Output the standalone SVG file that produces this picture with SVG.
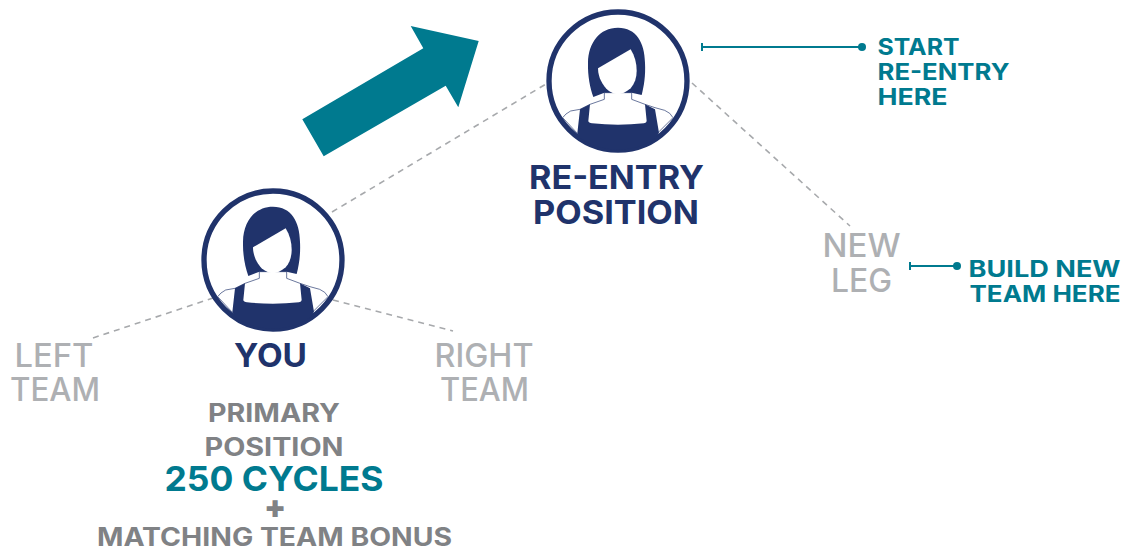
<svg xmlns="http://www.w3.org/2000/svg" width="1125" height="550" viewBox="0 0 1125 550">
<style>
text{font-family:"Inter","Liberation Sans",sans-serif;text-anchor:middle}
.navy{fill:#20336b;font-weight:700;font-size:33px}
.lt{fill:#aeb0b3;font-weight:500;font-size:32px}
.gr{fill:#808285;font-weight:700;font-size:25px}
.te{fill:#007a8f;font-weight:700}
.cal{font-size:23px;text-anchor:start}
.dash{fill:none;stroke:#a7a9ac;stroke-width:1.6;stroke-dasharray:6 5}
.lead{fill:none;stroke:#007a8f;stroke-width:2}
</style>
<defs>
<clipPath id="c"><circle r="206"/></clipPath>
<g id="person">
<circle r="207" fill="#fff" stroke="#20336b" stroke-width="16"/>
<g clip-path="url(#c)">
<path d="M-41 35 V55 L-84 70 L-114 85 L-142 90 Q-158 98 -166 110 L-122 157 L120 155 L165 110 Q158 95 140 88 L111 80 L81 70 L41 55 V35 Z" fill="#fff" stroke="#20336b" stroke-width="2"/>
<path d="M-114 85 L-84 70 L-89 120 Q-88 126 -78 127 Q0 135 78 127 Q86 126 86 120 L81 70 L111 85 L123 155 L80 230 L-80 230 L-122 157 Z" fill="#20336b"/>
<path d="M0 -160 C-55 -160 -89 -115 -90 -55 C-91 -15 -84 20 -74 48 L-41 35 L41 35 L71 42 C78 15 83 -15 81 -55 C80 -115 55 -160 0 -160 Z" fill="#20336b"/>
<path d="M38 -95 L-60 -38 C-60 -10 -45 15 -30 28 C-15 38 -8 40 0 40 C10 40 25 34 38 22 C50 8 56 -10 56 -30 C56 -55 50 -75 38 -95 Z" fill="#fff"/>
</g>
</g>
</defs>
<g id="connectors">
<path class="dash" d="M332 212 L546 84"/>
<path class="dash" d="M93 338 L213 298"/>
<path class="dash" d="M333 300 L453 331"/>
<path class="dash" d="M692 83 L850 226"/>
<path class="lead" d="M702 43 V51 M702 47 H862"/>
<circle cx="862" cy="47" r="4" fill="#007a8f"/>
<path class="lead" d="M910 262 V270 M910 266 H957"/>
<circle cx="957" cy="266" r="4" fill="#007a8f"/>
</g>
<polygon id="arrow" fill="#007a8f" points="302.3,119.3 323.7,156.3 445.7,85.7 458.3,107.3 478.7,41 410.7,26 423.3,48.3"/>
<g id="you">
<use href="#person" transform="translate(273 260) scale(.3333)"/>
<text class="navy" x="270.500" y="367" textLength="73" lengthAdjust="spacingAndGlyphs">YOU</text>
</g>
<g id="reentry">
<use href="#person" transform="translate(618 81) scale(.3333)"/>
<text class="navy" x="616.500" y="189" textLength="175" lengthAdjust="spacingAndGlyphs">RE-ENTRY</text>
<text class="navy" x="616" y="223.500" textLength="166" lengthAdjust="spacingAndGlyphs">POSITION</text>
</g>
<g id="left-team">
<text class="lt" x="54" y="367" textLength="79" lengthAdjust="spacingAndGlyphs">LEFT</text>
<text class="lt" x="55" y="400.500" textLength="90" lengthAdjust="spacingAndGlyphs">TEAM</text>
</g>
<g id="right-team">
<text class="lt" x="484" y="367" textLength="99" lengthAdjust="spacingAndGlyphs">RIGHT</text>
<text class="lt" x="484.500" y="400.500" textLength="89" lengthAdjust="spacingAndGlyphs">TEAM</text>
</g>
<g id="new-leg">
<text class="lt" x="861.500" y="257" textLength="78" lengthAdjust="spacingAndGlyphs">NEW</text>
<text class="lt" x="861.500" y="291.500" textLength="61" lengthAdjust="spacingAndGlyphs">LEG</text>
</g>
<g id="primary">
<text class="gr" x="274" y="422" textLength="132" lengthAdjust="spacingAndGlyphs">PRIMARY</text>
<text class="gr" x="274" y="456" textLength="139" lengthAdjust="spacingAndGlyphs">POSITION</text>
<text class="te" font-size="34" x="274" y="491" textLength="219" lengthAdjust="spacingAndGlyphs">250 CYCLES</text>
<text class="gr" x="275" y="518" style="font-size:32px;font-weight:900">+</text>
<text class="gr" x="274.500" y="546" textLength="355" lengthAdjust="spacingAndGlyphs">MATCHING TEAM BONUS</text>
</g>
<g id="start-label">
<text class="te cal" x="877.500" y="55" textLength="82" lengthAdjust="spacingAndGlyphs">START</text>
<text class="te cal" x="877.500" y="80" textLength="132" lengthAdjust="spacingAndGlyphs">RE-ENTRY</text>
<text class="te cal" x="877.500" y="105" textLength="70" lengthAdjust="spacingAndGlyphs">HERE</text>
</g>
<g id="build-label">
<text class="te cal" x="968.500" y="277" textLength="152" lengthAdjust="spacingAndGlyphs">BUILD NEW</text>
<text class="te cal" x="969.500" y="302" textLength="151" lengthAdjust="spacingAndGlyphs">TEAM HERE</text>
</g>
</svg>
